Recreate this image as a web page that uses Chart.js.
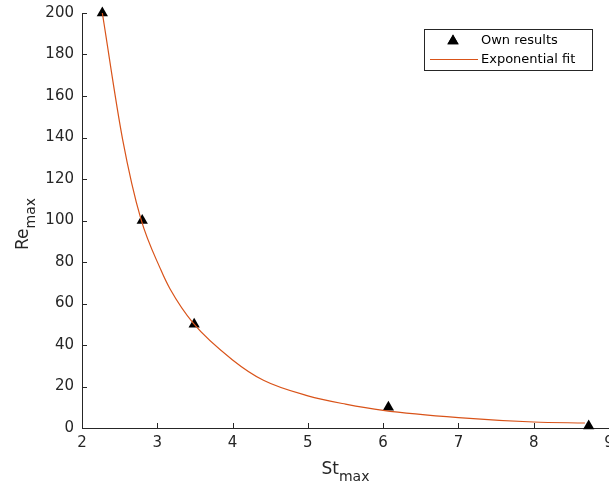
<!DOCTYPE html>
<html>
<head>
<meta charset="utf-8">
<script src="https://cdn.jsdelivr.net/npm/chart.js@4/dist/chart.umd.min.js"></script>
<style>
  html, body { margin: 0; padding: 0; background: #fff; }
  #wrap { width: 609px; height: 486px; }
</style>
</head>
<body>
<div id="wrap"><canvas id="myChart" width="609" height="486"></canvas></div>
<script>
// measured results (St_max, Re_max)
const ownSt = [2.27, 2.80, 3.49, 6.07, 8.73];
const ownRe = [200, 100, 50, 10, 1];

// fitted curve
const fitSt = [2.27, 2.54, 2.78, 3.05, 3.17, 3.48, 4.0, 4.41, 5.0, 5.5, 6.0, 7.0, 8.0, 8.68];
const fitRe = [200, 139, 101, 76, 67, 50.4, 32.8, 23, 15.5, 11.5, 8.5, 5.0, 2.9, 2.4];

const xTicks = [2, 3, 4, 5, 6, 7, 8, 9];
const yTicks = [0, 20, 40, 60, 80, 100, 120, 140, 160, 180, 200];

const axisColor = '#262626';
const fitColor = '#D95319';

const toPoints = (xs, ys) => xs.map((x, i) => ({ x: x, y: ys[i] }));

// inward ticks, sub-scripted axis titles and the boxed legend
const extras = {
  id: 'extras',
  afterDraw(chart) {
    const ctx = chart.ctx;
    const area = chart.chartArea;
    const xs = chart.scales.x, ys = chart.scales.y;
    ctx.save();
    ctx.strokeStyle = axisColor;
    ctx.lineWidth = 1;
    ctx.beginPath();
    xs.ticks.forEach(t => {
      const px = Math.round(xs.getPixelForValue(t.value)) + 0.5;
      ctx.moveTo(px, area.bottom);
      ctx.lineTo(px, area.bottom - 5);
    });
    ys.ticks.forEach(t => {
      const py = Math.round(ys.getPixelForValue(t.value)) + 0.5;
      ctx.moveTo(area.left, py);
      ctx.lineTo(area.left + 5, py);
    });
    ctx.stroke();

    // x title: St_max
    ctx.fillStyle = axisColor;
    ctx.textBaseline = 'alphabetic';
    ctx.textAlign = 'left';
    const big = '17px "DejaVu Sans"', small = '14px "DejaVu Sans"';
    ctx.font = big;
    const wSt = ctx.measureText('St').width;
    ctx.font = small;
    const wMax = ctx.measureText('max').width;
    let cx = (area.left + area.right) / 2 - (wSt + wMax) / 2;
    ctx.font = big;
    ctx.fillText('St', cx, 474);
    ctx.font = small;
    ctx.fillText('max', cx + wSt, 481);

    // y title: Re_max
    ctx.font = big;
    const wRe = ctx.measureText('Re').width;
    const cy = 224;
    ctx.save();
    ctx.translate(28, cy + (wRe + wMax) / 2);
    ctx.rotate(-Math.PI / 2);
    ctx.fillText('Re', 0, 0);
    ctx.font = small;
    ctx.fillText('max', wRe, 7);
    ctx.restore();

    // legend
    ctx.fillStyle = '#fff';
    ctx.fillRect(424.5, 29.5, 168, 41);
    ctx.strokeStyle = axisColor;
    ctx.strokeRect(424.5, 29.5, 168, 41);
    const ds = chart.data.datasets;
    ctx.font = '13px "DejaVu Sans"';
    ctx.fillStyle = '#000';
    ctx.textBaseline = 'middle';
    ctx.fillText(ds[1].label, 481, 41);
    ctx.fillText(ds[0].label, 481, 60);
    ctx.fillStyle = '#000';
    Chart.helpers.drawPoint(ctx, { pointStyle: 'triangle', radius: 6.5, rotation: 0, borderWidth: 0 }, 453, 41);
    ctx.fill();
    ctx.strokeStyle = fitColor;
    ctx.beginPath();
    ctx.moveTo(430, 59.5);
    ctx.lineTo(478, 59.5);
    ctx.stroke();
    ctx.restore();
  }
};

new Chart(document.getElementById('myChart').getContext('2d'), {
  type: 'scatter',
  data: {
    datasets: [{
      label: 'Exponential fit',
      data: toPoints(fitSt, fitRe),
      showLine: true,
      borderColor: fitColor,
      borderWidth: 1.2,
      pointRadius: 0,
      cubicInterpolationMode: 'monotone',
      order: 0
    }, {
      label: 'Own results',
      data: toPoints(ownSt, ownRe),
      pointStyle: 'triangle',
      pointRadius: 6.5,
      backgroundColor: '#000',
      borderColor: '#000',
      borderWidth: 0,
      clip: false,
      order: 1
    }]
  },
  options: {
    responsive: false,
    animation: false,
    devicePixelRatio: 1,
    layout: { autoPadding: false, padding: { top: 13, left: 0, right: 0, bottom: 0 } },
    plugins: { legend: { display: false }, tooltip: { enabled: false } },
    scales: {
      x: {
        type: 'linear',
        min: 2, max: 9,
        afterBuildTicks: s => { s.ticks = xTicks.map(v => ({ value: v })); },
        afterFit: s => { s.height = 58; s.paddingLeft = 0; s.paddingRight = 0; },
        grid: { display: false, drawTicks: false },
        border: { color: axisColor, width: 1 },
        ticks: { color: axisColor, font: { family: 'DejaVu Sans', size: 15 }, padding: 6, maxRotation: 0 }
      },
      y: {
        type: 'linear',
        min: 0, max: 200,
        afterBuildTicks: s => { s.ticks = yTicks.map(v => ({ value: v })); },
        afterFit: s => { s.width = 82; s.paddingTop = 0; s.paddingBottom = 0; },
        grid: { display: false, drawTicks: false },
        border: { color: axisColor, width: 1 },
        ticks: { color: axisColor, font: { family: 'DejaVu Sans', size: 15 }, padding: 8 }
      }
    }
  },
  plugins: [extras]
});
</script>
</body>
</html>
